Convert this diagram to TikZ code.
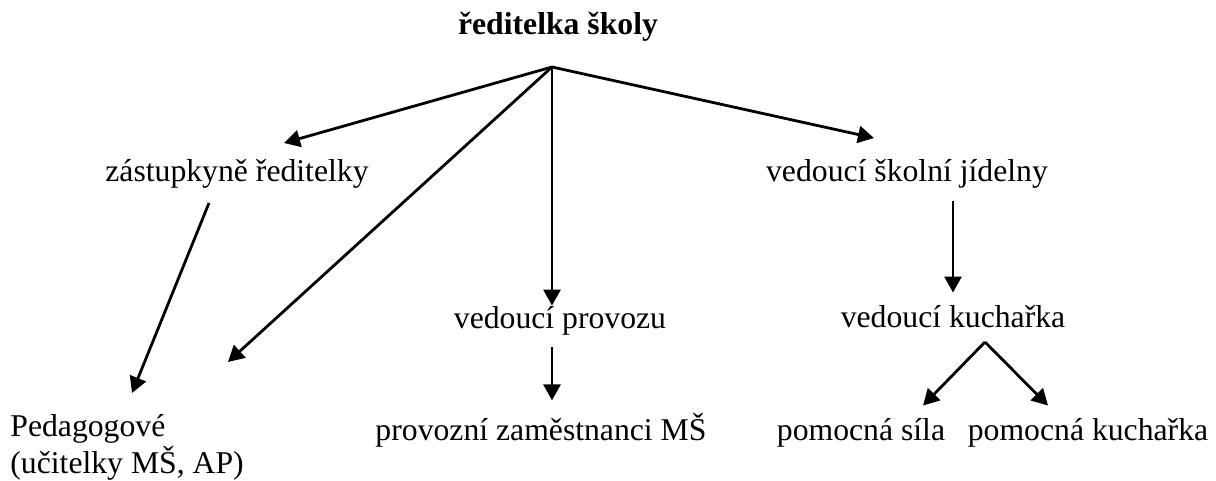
\documentclass[tikz,border=0pt]{standalone}
\usepackage{fontspec}
\setmainfont{Liberation Serif}
\usetikzlibrary{arrows.meta}

\begin{document}
\begin{tikzpicture}[x=0.5pt,y=-0.5pt]
        \tikzset{label/.style = {anchor=base, inner sep=0pt, font=\fontsize{15.85}{16.5}\selectfont}}
        \tikzset{edge/.style = {-{Triangle[length=8pt,width=8.5pt]}, line width=1.4pt}}

        \useasboundingbox (0,0) rectangle (1216,481);

        % nodes
        \node[label, font=\fontsize{15.85}{16.5}\selectfont\bfseries] (reditelka) at (558,35) {ředitelka školy};
        \node[label] (zastupkyne) at (237,182) {zástupkyně ředitelky};
        \node[label] (jidelna) at (907,182) {vedoucí školní jídelny};
        \node[label] (provoz) at (560,328) {vedoucí provozu};
        \node[label] (kucharka) at (953,327) {vedoucí kuchařka};
        \node[label, anchor=base west, align=left] (pedagogove) at (10,473) {Pedagogové\\(učitelky MŠ, AP)};
        \node[label] (zamestnanci) at (541,440) {provozní zaměstnanci MŠ};
        \node[label] (sila) at (861,440) {pomocná síla};
        \node[label] (pomkucharka) at (1088,440) {pomocná kuchařka};

        % branch points
        \coordinate (hub) at (552,67);
        \coordinate (split) at (985,342);
        \coordinate (zastupkyne-in) at (284,143);
        \coordinate (jidelna-in) at (874,138);
        \coordinate (zastupkyne-out) at (209,203);
        \coordinate (pedagogove-in) at (132,393);
        \coordinate (pedagogove-in2) at (228,362);

        % edges
        \draw[edge] (hub) to (zastupkyne-in);
        \draw[edge] (hub) to (jidelna-in);
        \draw[edge] (hub) to (hub |- provoz.north);
        \draw[edge] (hub) to (pedagogove-in2);
        \draw[edge] (zastupkyne-out) to (pedagogove-in);
        \draw[edge] ([yshift=-6pt]provoz.south -| hub) to ([yshift=6pt]zamestnanci.north -| hub);
        \draw[edge] ([yshift=-6pt]jidelna.south -| kucharka) to ([yshift=6pt]kucharka.north);
        \draw[edge] (split) to ([yshift=6pt]sila.north -| 923,0);
        \draw[edge] (split) to ([yshift=6pt]pomkucharka.north -| 1048,0);

    \end{tikzpicture}
\end{document}
